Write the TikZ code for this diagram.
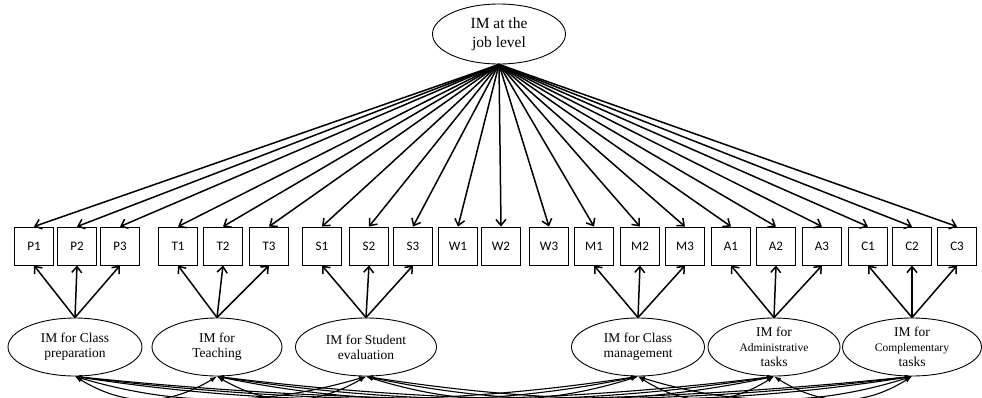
\documentclass[tikz,border=0pt]{standalone}
\usepackage{fontspec}
\setmainfont{Liberation Serif}
\newfontfamily\boxfont{Carlito}
\usetikzlibrary{shapes.geometric,arrows.meta,calc}
\tikzset{
  x=1pt,y=-1pt,
  mbox/.style={draw,line width=0.9pt,minimum width=39pt,minimum height=38pt,inner sep=0pt,font=\boxfont\fontsize{13}{15}\selectfont},
  lat/.style={draw,ellipse,line width=0.9pt,inner sep=0pt,align=center,font=\rmfamily\fontsize{13.5}{15}\selectfont,minimum height=58pt},
  arr/.style={-{Straight Barb[length=6pt,width=10pt]},line width=1.5pt},
  cov/.style={{Latex[length=7pt,width=5pt]}-{Latex[length=7pt,width=5pt]},line width=1.1pt}
}
\begin{document}
\begin{tikzpicture}
\useasboundingbox (0,0) rectangle (982,397);
\node[draw,ellipse,line width=0.9pt,inner sep=0pt,align=center,minimum width=133pt,minimum height=60pt,font=\rmfamily\fontsize{15.5}{19}\selectfont] (top) at (499,34) {IM at the\\job level};
\foreach \n/\x in {P1/34,P2/77,P3/120,T1/178,T2/223,T3/269,S1/322,S2/369,S3/413,W1/458,W2/501,W3/549,M1/594,M2/640,M3/685,A1/731,A2/776,A3/822,C1/868,C2/912,C3/957}
  \node[mbox] (\n) at (\x,246) {\n};
\foreach \n in {P1,P2,P3,T1,T2,T3,S1,S2,S3,W1,W2,W3,M1,M2,M3,A1,A2,A3,C1,C2,C3}
  \draw[arr] (top.south) -- (\n.north);
\node[lat,minimum width=134pt] (EP) at (75,347) {IM for Class\\preparation};
\node[lat,minimum width=130pt] (ET) at (217,347) {IM for\\Teaching};
\node[lat,minimum width=141pt] (ES) at (366,347) {IM for Student\\evaluation};
\node[lat,minimum width=133pt] (EM) at (638,347) {IM for Class\\management};
\node[lat,minimum width=132pt] (EA) at (774,347) {IM for\\{\fontsize{11.5}{15}\selectfont Administrative}\\tasks};
\node[lat,minimum width=139pt] (EC) at (912,347) {IM for\\{\fontsize{11.5}{15}\selectfont Complementary}\\tasks};
\foreach \e/\a/\b/\c in {EP/P1/P2/P3,ET/T1/T2/T3,ES/S1/S2/S3,EM/M1/M2/M3,EA/A1/A2/A3,EC/C1/C2/C3}{
  \draw[arr] (\e.north) -- (\a.south);
  \draw[arr] (\e.north) -- (\b.south);
  \draw[arr] (\e.north) -- (\c.south);
}
\begin{scope}
\clip (0,0) rectangle (982,397);
\foreach \i/\j in {EP/ET,EP/ES,EP/EM,EP/EA,EP/EC,ET/ES,ET/EM,ET/EA,ET/EC,ES/EM,ES/EA,ES/EC,EM/EA,EM/EC,EA/EC}
  \draw[cov] let \p1=(\i.south), \p2=(\j.south), \n1={0.35*(\x2-\x1)} in
    (\i.south) .. controls +(\n1,30) and +(-\n1,30) .. (\j.south);
\end{scope}
\end{tikzpicture}
\end{document}
